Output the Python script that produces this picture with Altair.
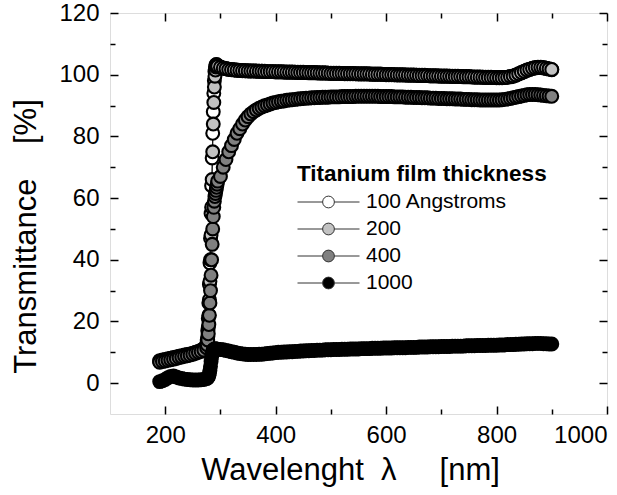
import altair as alt
import pandas as pd

# ---------------- data ----------------
WL_LOW = list(range(190, 280, 5))     # 190 ... 275 nm
WL_JUMP = list(range(276, 295))       # 276 ... 294 nm (absorption edge)
WL_HIGH = list(range(295, 905, 5))    # 295 ... 900 nm

SERIES = ["100 Angstroms", "200", "400", "1000"]
FILLS = ["#ffffff", "#c2c2c2", "#808080", "#000000"]

T100_LOW = [7.3, 7.5, 7.7, 7.9, 8.1, 8.3, 8.5, 8.7, 8.9, 9.1, 9.3, 9.5, 9.7, 10.0, 10.3, 10.7, 11.2, 12.5]
T100_JUMP = [14, 17, 21, 26, 32, 39, 47, 55, 64, 73, 81, 88, 94, 98, 101, 102.5, 103.2, 103.3, 103.0]
T100_HIGH = [
    102.8, 102.5, 102.2, 102.0, 101.8, 101.7, 101.6, 101.5, 101.4, 101.4, 101.3, 101.3, 101.2, 101.2, 101.2, 101.1, 101.1, 101.1, 101.0, 101.0, 101.0, 101.0,
    101.0, 101.0, 100.9, 100.9, 100.9, 100.9, 100.8, 100.8, 100.8, 100.8, 100.7, 100.7, 100.7, 100.7, 100.6, 100.6, 100.6, 100.6, 100.5, 100.5,
    100.5, 100.5, 100.5, 100.4, 100.4, 100.4, 100.4, 100.4, 100.3, 100.3, 100.3, 100.3, 100.3, 100.2, 100.2, 100.2, 100.2, 100.2, 100.1, 100.1,
    100.1, 100.1, 100.0, 100.0, 100.0, 100.0, 99.9, 99.9, 99.9, 99.9, 99.8, 99.8, 99.8, 99.8, 99.7, 99.7, 99.7, 99.7, 99.6, 99.6,
    99.6, 99.6, 99.5, 99.5, 99.5, 99.5, 99.4, 99.4, 99.4, 99.4, 99.3, 99.3, 99.3, 99.3, 99.2, 99.2, 99.2, 99.2, 99.1, 99.1,
    99.1, 99.1, 99.1, 99.2, 99.3, 99.5, 99.8, 100.2, 100.6, 101.0, 101.4, 101.7, 102.0, 102.2, 102.3, 102.3, 102.2, 102.0, 101.8, 101.6,
]

T200_LOW = [7.0, 7.3, 7.5, 7.7, 7.9, 8.1, 8.3, 8.5, 8.7, 8.9, 9.1, 9.3, 9.5, 9.8, 10.1, 10.5, 11.0, 12.0]
T200_JUMP = [13, 15, 18, 22, 27, 33, 40, 48, 57, 66, 75, 84, 91, 96, 99.5, 101.5, 102.5, 103.0, 102.9]
T200_HIGH = [
    102.7, 102.4, 102.1, 101.9, 101.7, 101.6, 101.5, 101.4, 101.4, 101.3, 101.3, 101.2, 101.2, 101.2, 101.1, 101.1, 101.1, 101.0, 101.0, 101.0, 101.0, 100.9,
    100.9, 100.9, 100.9, 100.8, 100.8, 100.8, 100.8, 100.7, 100.7, 100.7, 100.7, 100.6, 100.6, 100.6, 100.6, 100.5, 100.5, 100.5, 100.5, 100.4,
    100.4, 100.4, 100.4, 100.4, 100.3, 100.3, 100.3, 100.3, 100.3, 100.2, 100.2, 100.2, 100.2, 100.2, 100.1, 100.1, 100.1, 100.1, 100.1, 100.0,
    100.0, 100.0, 100.0, 99.9, 99.9, 99.9, 99.9, 99.8, 99.8, 99.8, 99.8, 99.7, 99.7, 99.7, 99.7, 99.6, 99.6, 99.6, 99.6, 99.5,
    99.5, 99.5, 99.5, 99.4, 99.4, 99.4, 99.4, 99.3, 99.3, 99.3, 99.3, 99.2, 99.2, 99.2, 99.2, 99.1, 99.1, 99.1, 99.1, 99.0,
    99.0, 99.0, 99.1, 99.2, 99.4, 99.6, 99.9, 100.3, 100.7, 101.1, 101.5, 101.8, 102.1, 102.3, 102.4, 102.4, 102.3, 102.1, 101.9, 101.7,
]

T400_LOW = [6.8, 7.0, 7.2, 7.4, 7.6, 7.8, 8.0, 8.3, 8.5, 8.7, 8.9, 9.1, 9.4, 9.7, 10.0, 10.3, 10.7, 11.5]
T400_JUMP = [12.5, 14, 16, 19, 22, 26, 30, 35, 40, 45, 50, 54, 57, 59, 60.5, 61.5, 62.5, 63.5, 64.5]
T400_HIGH = [
    65.5, 67, 70, 72.5, 75, 77, 79, 81, 82.5, 84, 85.3, 86.4, 87.3, 88.0, 88.6, 89.1, 89.5, 89.9, 90.2, 90.5, 90.8, 91.0,
    91.2, 91.4, 91.5, 91.7, 91.8, 91.9, 92.0, 92.1, 92.2, 92.3, 92.4, 92.4, 92.5, 92.5, 92.6, 92.6, 92.7, 92.7, 92.7, 92.8,
    92.8, 92.8, 92.8, 92.9, 92.9, 92.9, 92.9, 92.9, 93.0, 93.0, 93.0, 93.0, 93.0, 93.0, 93.0, 93.0, 93.0, 92.9, 92.9, 92.9,
    92.9, 92.9, 92.8, 92.8, 92.8, 92.8, 92.7, 92.7, 92.7, 92.6, 92.6, 92.6, 92.5, 92.5, 92.5, 92.4, 92.4, 92.4, 92.3, 92.3,
    92.3, 92.2, 92.2, 92.2, 92.1, 92.1, 92.1, 92.0, 92.0, 92.0, 91.9, 91.9, 91.9, 91.8, 91.8, 91.8, 91.8, 91.8, 91.8, 91.8,
    91.8, 91.9, 92.0, 92.1, 92.3, 92.5, 92.7, 92.9, 93.1, 93.3, 93.5, 93.6, 93.6, 93.6, 93.5, 93.4, 93.3, 93.2, 93.1, 93.0,
]

T1000_LOW = [0.5, 0.8, 1.2, 1.8, 2.2, 2.3, 2.0, 1.7, 1.5, 1.3, 1.2, 1.1, 1.0, 1.0, 1.0, 1.1, 1.2, 1.5]
T1000_JUMP = [1.6, 1.8, 2.0, 2.5, 3.2, 4.2, 5.5, 7.0, 8.5, 9.6, 10.3, 10.7, 10.9, 11.0, 11.1, 11.1, 11.1, 11.0, 11.0]
T1000_HIGH = [
    11.0, 10.9, 10.8, 10.6, 10.4, 10.2, 10.0, 9.8, 9.6, 9.5,
    9.4, 9.3, 9.3, 9.3, 9.3, 9.4, 9.4, 9.5, 9.6, 9.7, 9.8, 9.9,
    10.0, 10.0, 10.1, 10.1, 10.2, 10.2, 10.3, 10.3, 10.4, 10.4, 10.5, 10.5, 10.6, 10.6, 10.7, 10.7, 10.7, 10.8, 10.8, 10.8,
    10.9, 10.9, 10.9, 11.0, 11.0, 11.0, 11.1, 11.1, 11.1, 11.1, 11.2, 11.2, 11.2, 11.2, 11.3, 11.3, 11.3, 11.3, 11.4, 11.4,
    11.4, 11.4, 11.5, 11.5, 11.5, 11.5, 11.5, 11.6, 11.6, 11.6, 11.6, 11.7, 11.7, 11.7, 11.7, 11.8, 11.8, 11.8, 11.8, 11.9,
    11.9, 11.9, 11.9, 12.0, 12.0, 12.0, 12.0, 12.0, 12.1, 12.1, 12.1, 12.1, 12.2, 12.2, 12.2, 12.2, 12.3, 12.3, 12.3, 12.3,
    12.4, 12.4, 12.4, 12.5, 12.5, 12.5, 12.6, 12.6, 12.7, 12.7, 12.8, 12.8, 12.8, 12.9, 12.9, 12.9, 12.8, 12.8, 12.7, 12.7,
]

X_MAJOR = [200, 400, 600, 800, 1000]
X_MINOR = [300, 500, 700, 900]
Y_MAJOR = [0, 20, 40, 60, 80, 100, 120]
Y_MINOR = [10, 30, 50, 70, 90, 110]

X_TITLE = "Wavelenght\u00a0\u00a0\u03bb\u00a0\u00a0\u00a0\u00a0\u00a0[nm]"
Y_TITLE = "Transmittance\u00a0\u00a0\u00a0\u00a0[%]"
LEGEND_TITLE = "Titanium film thickness"

# ---------------- table ----------------
WL = WL_LOW + WL_JUMP + WL_HIGH
rows = []
for name, vals in zip(SERIES, [T100_LOW + T100_JUMP + T100_HIGH,
                               T200_LOW + T200_JUMP + T200_HIGH,
                               T400_LOW + T400_JUMP + T400_HIGH,
                               T1000_LOW + T1000_JUMP + T1000_HIGH]):
    assert len(vals) == len(WL), (name, len(vals), len(WL))
    for w, t in zip(WL, vals):
        rows.append({"series": name, "wl": w, "t": t})
df = pd.DataFrame(rows)

FONT = "Liberation Sans"
XS = alt.Scale(domain=[100, 1000], nice=False, zero=False)
YS = alt.Scale(domain=[-10, 120], nice=False, zero=False)

LEGEND_SYMBOL = ("M-1,0L-0.19,0M0.19,0A0.19,0.19,0,1,1,-0.19,0"
                 "A0.19,0.19,0,1,1,0.19,0ZM0.19,0L1,0")

lines = alt.Chart(df).mark_line(color="black", strokeWidth=0.8).encode(
    x=alt.X("wl:Q", scale=XS, axis=None),
    y=alt.Y("t:Q", scale=YS, axis=None),
    detail="series:N",
)

points = alt.Chart(df).mark_circle(size=165, opacity=1, stroke="#000000", strokeWidth=2.1).encode(
    x=alt.X("wl:Q", scale=XS, axis=None),
    y=alt.Y("t:Q", scale=YS, axis=None),
    fill=alt.Fill(
        "series:N",
        scale=alt.Scale(domain=SERIES, range=FILLS),
        legend=alt.Legend(
            orient="none", legendX=187, legendY=150,
            title=LEGEND_TITLE, titleFont=FONT, titleFontSize=22.5, titleFontWeight="bold",
            titleColor="black", titlePadding=6, titleLimit=600,
            labelFont=FONT, labelFontSize=21, labelColor="black", labelOffset=6, labelLimit=400,
            symbolType=LEGEND_SYMBOL, symbolSize=3844, symbolStrokeColor="#333333",
            symbolStrokeWidth=1, symbolOpacity=1, clipHeight=21, rowPadding=5, padding=0,
        ),
    ),
)

dummy = pd.DataFrame({"x": [500], "y": [50]})


def axis_layer(xaxis, yaxis):
    return alt.Chart(dummy).mark_point(opacity=0).encode(
        x=alt.X("x:Q", scale=XS, axis=xaxis),
        y=alt.Y("y:Q", scale=YS, axis=yaxis),
    )


common = dict(domain=False, grid=False, tickColor="black", tickWidth=1.5)

ax_main = axis_layer(
    alt.Axis(orient="bottom", values=X_MAJOR, format="d", tickSize=8, offset=-8, labelFont=FONT,
             labelFontSize=24, labelColor="black", labelPadding=9, labelFlush=True,
             title=X_TITLE, titleFont=FONT, titleFontSize=31, titleFontWeight="normal",
             titleColor="black", titlePadding=8, titleX=240, **common),
    alt.Axis(orient="left", values=Y_MAJOR, format="d", tickSize=8, offset=-8, labelFont=FONT,
             labelFontSize=24, labelColor="black", labelPadding=11,
             title=Y_TITLE, titleFont=FONT, titleFontSize=31, titleFontWeight="normal",
             titleColor="black", titlePadding=16, titleY=223, **common),
)
ax_minor = axis_layer(
    alt.Axis(orient="bottom", values=X_MINOR, tickSize=5, offset=-5, labels=False, title=None, **common),
    alt.Axis(orient="left", values=Y_MINOR, tickSize=5, offset=-5, labels=False, title=None, **common),
)
ax_opp_major = axis_layer(
    alt.Axis(orient="top", values=X_MAJOR, tickSize=8, offset=-8, labels=False, title=None, **common),
    alt.Axis(orient="right", values=Y_MAJOR, tickSize=8, offset=-8, labels=False, title=None, **common),
)
ax_opp_minor = axis_layer(
    alt.Axis(orient="top", values=X_MINOR, tickSize=5, offset=-5, labels=False, title=None, **common),
    alt.Axis(orient="right", values=Y_MINOR, tickSize=5, offset=-5, labels=False, title=None, **common),
)

chart = alt.layer(
    ax_main, ax_minor, ax_opp_major, ax_opp_minor, lines, points
).resolve_axis(
    x="independent", y="independent"
).properties(
    width=497, height=401,
    padding={"left": 110, "top": 13, "right": 10, "bottom": 81},
    autosize=alt.AutoSizeParams(type="none"),
    background="white",
).configure_view(
    stroke="black", strokeWidth=1.5
).configure(
    font=FONT
)

chart.save("out.html", embed_options={"renderer": "svg", "actions": False})
